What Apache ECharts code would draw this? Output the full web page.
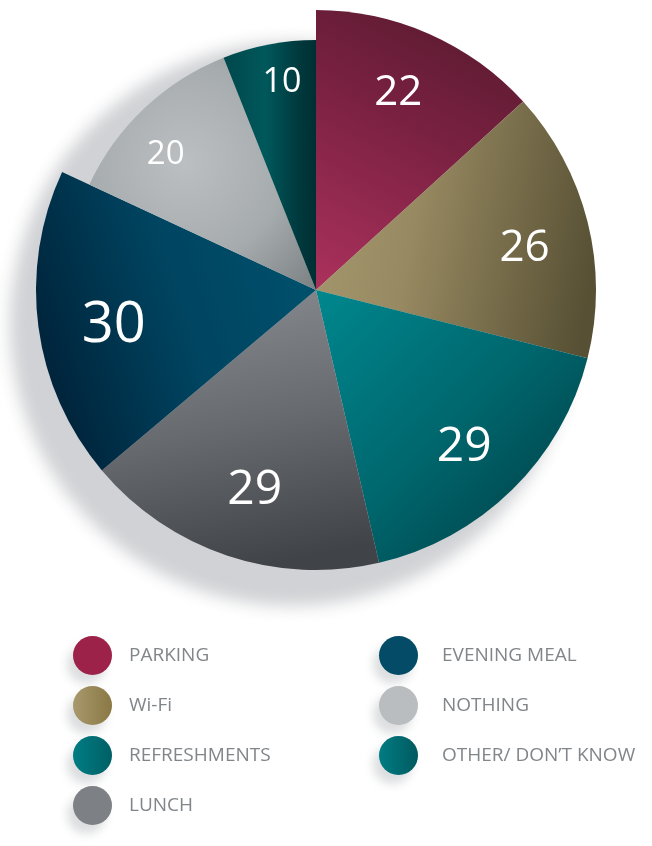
<!DOCTYPE html>
<html>
<head>
<meta charset="utf-8">
<script src="https://cdn.jsdelivr.net/npm/echarts@6/dist/echarts.min.js"></script>
<style>
html,body{margin:0;padding:0;background:#fff;}
#chart{width:652px;height:846px;}
</style>
</head>
<body>
<div id="chart"></div>
<script>
// ---- data ----
var categories = ['PARKING', 'Wi-Fi', 'REFRESHMENTS', 'LUNCH', 'EVENING MEAL', 'NOTHING', 'OTHER/ DON\u2019T KNOW'];
var values = [22, 26, 29, 29, 30, 20, 10];
// which slices are drawn at the shorter radius
var shortSlices = ['NOTHING', 'OTHER/ DON\u2019T KNOW'];
var leftLegend = ['PARKING', 'Wi-Fi', 'REFRESHMENTS', 'LUNCH'];
var rightLegend = ['EVENING MEAL', 'NOTHING', 'OTHER/ DON\u2019T KNOW'];

// ---- styles ----
function lg(x, y, x2, y2, stops) {
  return new echarts.graphic.LinearGradient(x, y, x2, y2, stops.map(function (s) { return { offset: s[0], color: s[1] }; }));
}
function rg(x, y, r, stops) {
  return new echarts.graphic.RadialGradient(x, y, r, stops.map(function (s) { return { offset: s[0], color: s[1] }; }));
}
var sliceFills = [
  lg(0.15, 1, 0.85, 0, [[0, '#a8305a'], [0.55, '#7a2141'], [1, '#571a2e']]),
  lg(0, 0.4, 1, 0.6, [[0, '#a4966c'], [0.35, '#978961'], [1, '#575034']]),
  lg(0, 0, 1, 1, [[0, '#00878e'], [0.5, '#00666d'], [1, '#00383e']]),
  lg(0.3, 0, 0.5, 1, [[0, '#878b8f'], [0.5, '#676b6f'], [1, '#404347']]),
  lg(1, 0.3, 0, 0.6, [[0, '#00516d'], [0.5, '#004460'], [1, '#00233a']]),
  rg(0.42, 0.45, 0.8, [[0, '#bbbfc1'], [0.55, '#a6abad'], [1, '#7b8083']]),
  lg(0, 0, 1, 0, [[0, '#00474b'], [0.45, '#00585b'], [0.8, '#003a3e'], [1, '#002f33']])
];
var legendFills = [
  '#9c2249',
  lg(0, 0, 1, 0, [[0, '#a8996d'], [1, '#8a7844']]),
  lg(0, 0, 1, 0, [[0, '#007d83'], [1, '#005f66']]),
  '#7d8185',
  '#034b66',
  '#b9bdc0',
  lg(0, 0, 1, 0, [[0, '#007c82'], [1, '#005a60']])
];
var labelSizes = [42, 44, 48, 48, 56, 33, 34];
var labelNudges = [[-4, -2], [2, 10], [-1, 5], [6, -2], [9, 8], [-4, 19], [6, 2]];

var total = values.reduce(function (a, b) { return a + b; }, 0);

var chart = echarts.init(document.getElementById('chart'), null, { renderer: 'canvas' });

var CLEAR = 'rgba(0,0,0,0)';
function isShort(c) { return shortSlices.indexOf(c) >= 0; }

var bigData = categories.map(function (c, i) {
  return { name: c, value: values[i], itemStyle: { color: isShort(c) ? CLEAR : sliceFills[i] } };
});
var smallData = categories.map(function (c, i) {
  return { name: c, value: values[i], itemStyle: { color: isShort(c) ? sliceFills[i] : CLEAR } };
});
var labelData = categories.map(function (c, i) {
  return { name: c, value: values[i], label: { fontSize: labelSizes[i], offset: labelNudges[i] } };
});

function legendItems(names) {
  return names.map(function (n) {
    var i = categories.indexOf(n);
    return { name: n, itemStyle: { color: legendFills[i] } };
  });
}

var legendCommon = {
  orient: 'vertical',
  icon: 'circle',
  itemWidth: 39,
  itemHeight: 39,
  itemGap: 11,
  padding: 0,
  selectedMode: false,
  itemStyle: {
    shadowBlur: 10,
    shadowOffsetX: -6,
    shadowOffsetY: 9,
    shadowColor: 'rgba(60,70,80,0.18)'
  },
  textStyle: {
    color: '#80868a',
    fontSize: 19,
    fontFamily: 'Open Sans',
    fontWeight: 400
  }
};

var pieBase = {
  type: 'pie',
  silent: true,
  center: [316, 290],
  startAngle: 90,
  clockwise: true,
  label: { show: false },
  labelLine: { show: false },
  emphasis: { disabled: true }
};

// the drop shadow is cast by a disc placed far above the canvas
var SHIFT = 3000;

var option = {
  animation: false,
  backgroundColor: '#ffffff',
  legend: [
    Object.assign({}, legendCommon, {
      left: 73, top: 636,
      data: legendItems(leftLegend),
      textStyle: Object.assign({}, legendCommon.textStyle, { padding: [0, 0, 0, 12] })
    }),
    Object.assign({}, legendCommon, {
      left: 379, top: 636,
      data: legendItems(rightLegend),
      textStyle: Object.assign({}, legendCommon.textStyle, { padding: [0, 0, 0, 19] })
    })
  ],
  series: [
    Object.assign({}, pieBase, {
      name: 'shadow',
      center: [316, 290 - SHIFT],
      radius: 282,
      z: 1,
      itemStyle: {
        color: '#000000',
        shadowBlur: 16,
        shadowOffsetX: -24,
        shadowOffsetY: SHIFT + 34,
        shadowColor: 'rgba(40,48,58,0.215)'
      },
      data: [{ name: 'shadow', value: total }]
    }),
    Object.assign({}, pieBase, {
      name: 'main',
      radius: 280,
      z: 2,
      data: bigData
    }),
    Object.assign({}, pieBase, {
      name: 'short',
      radius: 250,
      z: 3,
      data: smallData
    }),
    Object.assign({}, pieBase, {
      name: 'labels',
      radius: [140, 280],
      z: 4,
      itemStyle: { color: CLEAR },
      label: {
        show: true,
        position: 'inside',
        formatter: '{c}',
        color: '#ffffff',
        fontFamily: 'Open Sans',
        fontWeight: 400
      },
      data: labelData
    })
  ]
};
chart.setOption(option);
</script>
</body>
</html>
